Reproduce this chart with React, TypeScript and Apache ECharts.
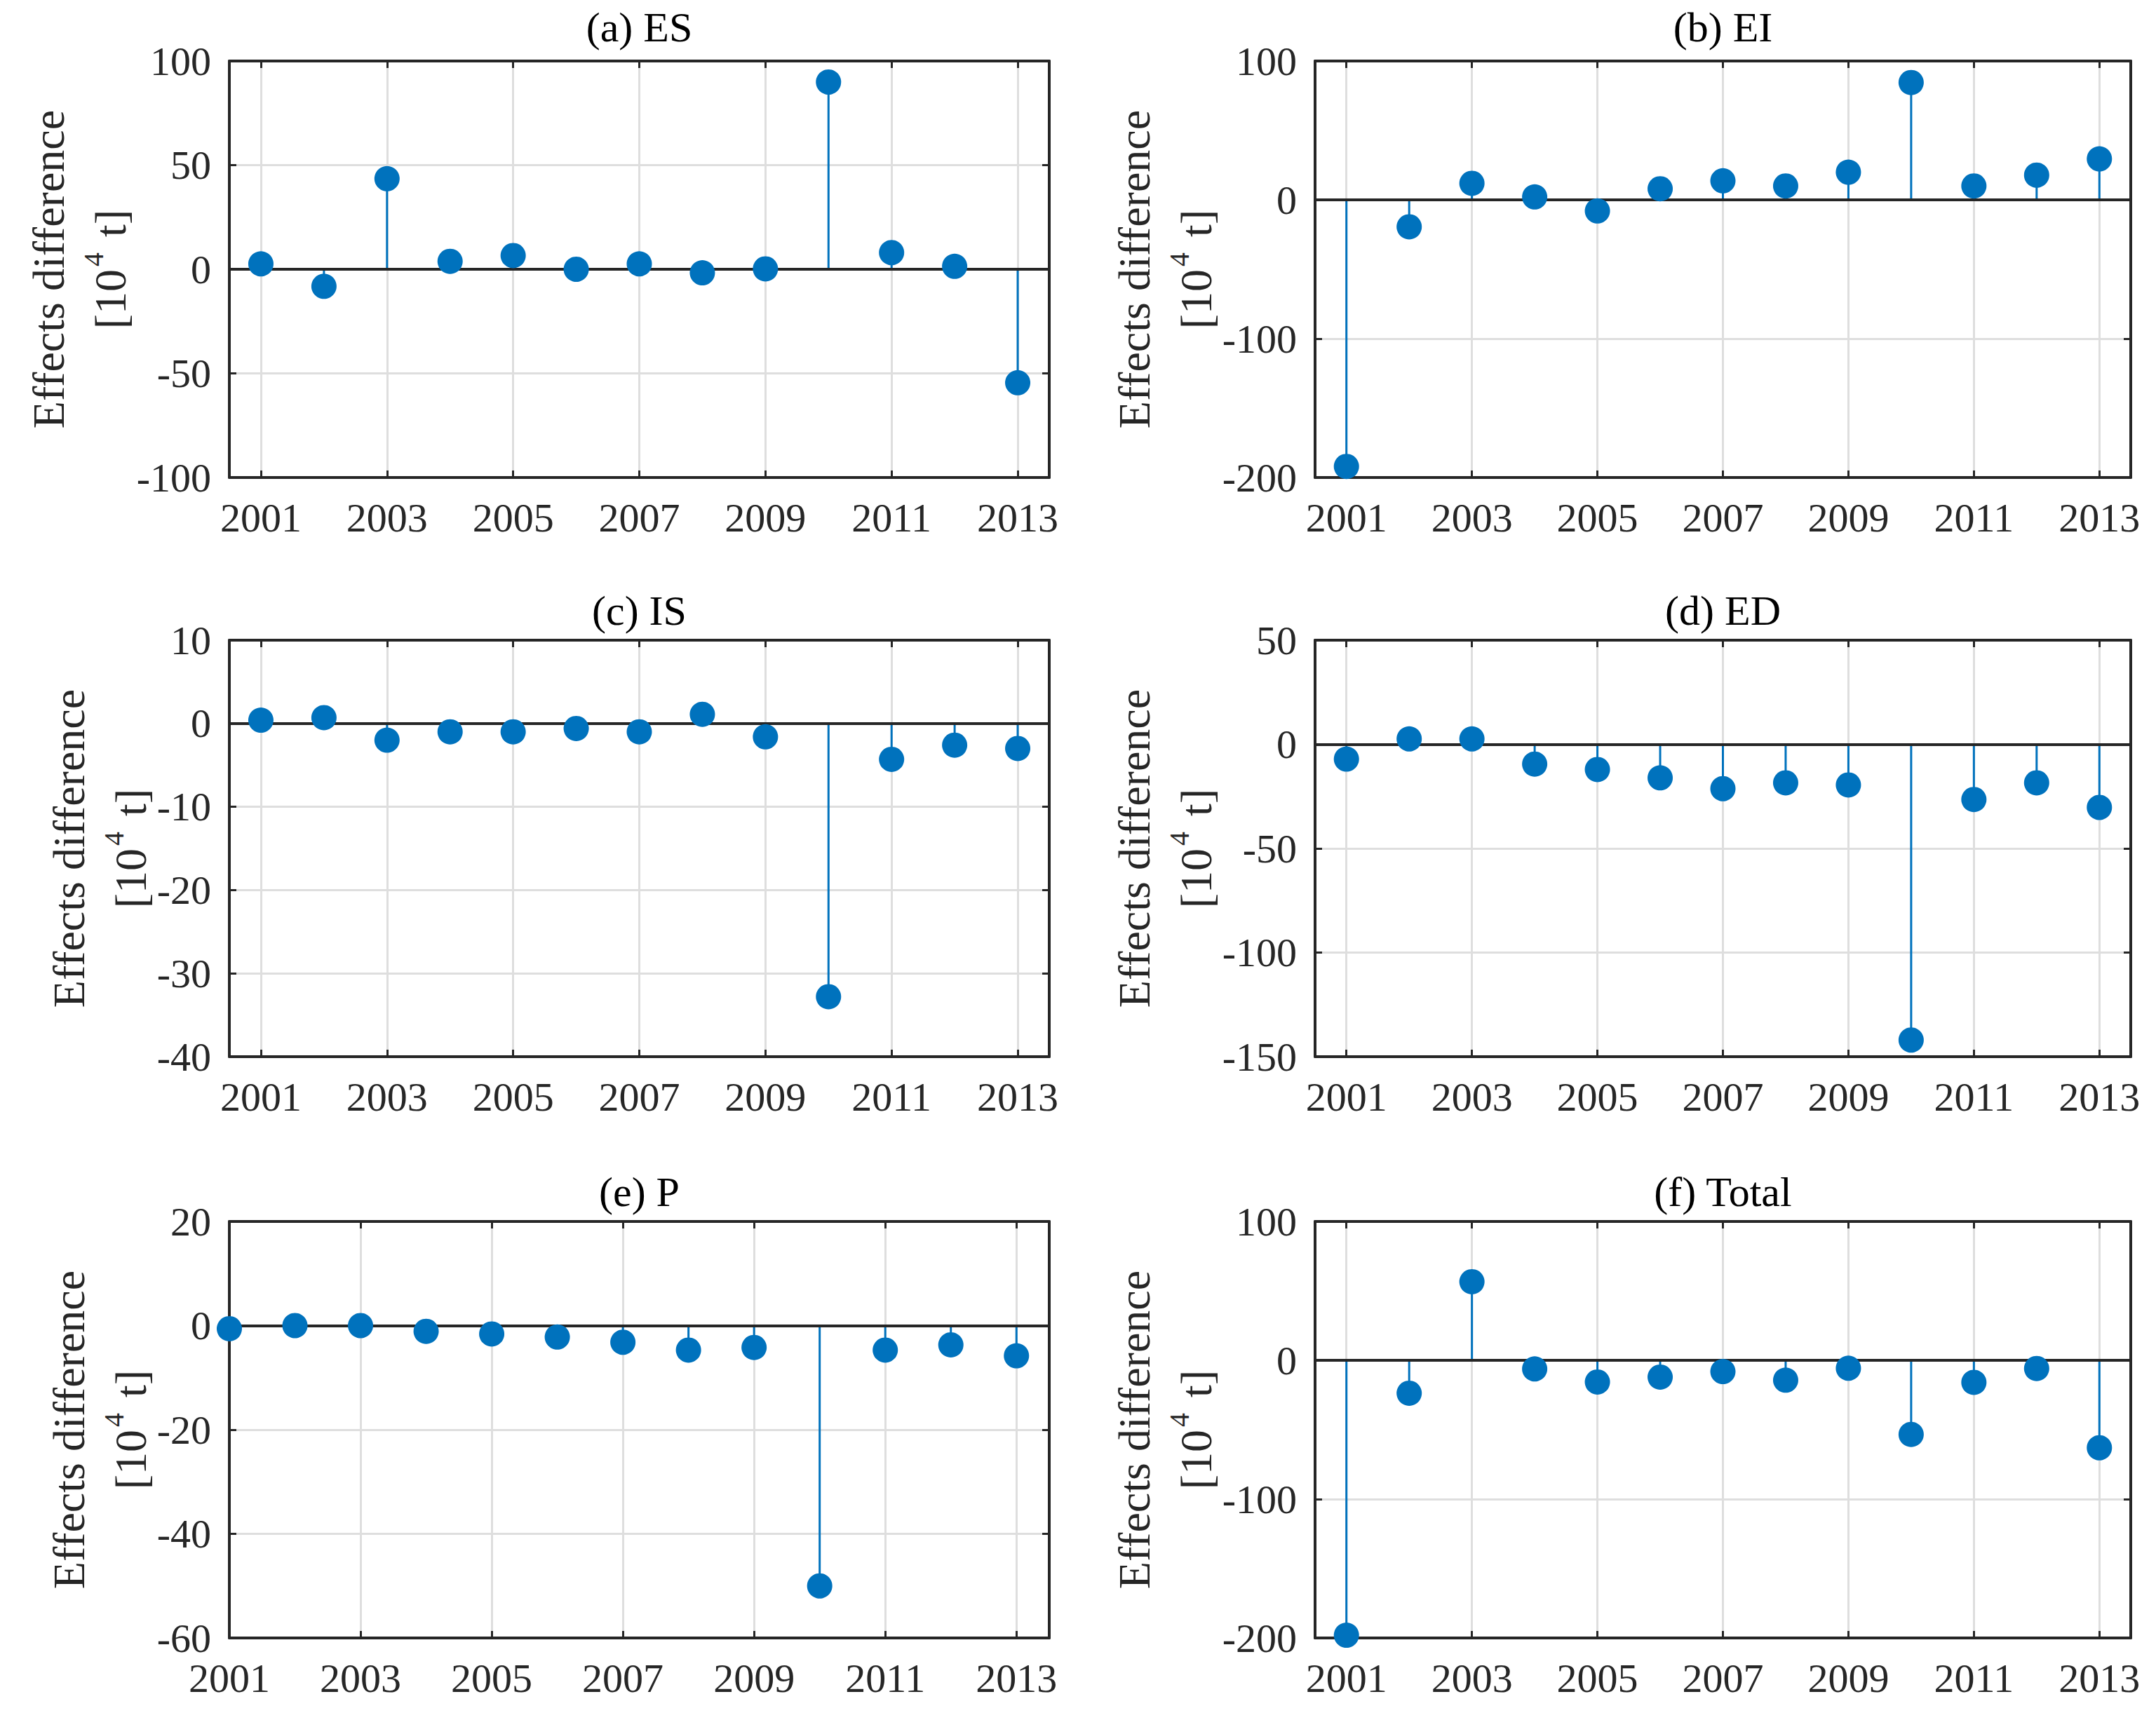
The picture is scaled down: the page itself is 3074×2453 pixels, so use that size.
import React, { useEffect, useRef } from "react";
import * as echarts from "echarts";

// ---------- data ----------
const years = [2001, 2002, 2003, 2004, 2005, 2006, 2007, 2008, 2009, 2010, 2011, 2012, 2013];
const xTickYears = [2001, 2003, 2005, 2007, 2009, 2011, 2013];

const ES = [2.6, -8.2, 43.5, 3.8, 6.6, 0.0, 2.6, -1.7, 0.2, 89.9, 8.0, 1.4, -54.5];
const EI = [-192, -19.4, 11.9, 2.1, -8.0, 8.0, 13.7, 10.0, 19.9, 84.5, 10.0, 17.8, 29.5];
const IS = [0.4, 0.7, -2.0, -1.0, -1.0, -0.6, -1.0, 1.1, -1.6, -32.8, -4.3, -2.6, -3.0];
const ED = [-7.1, 2.6, 2.6, -9.5, -12.1, -16.1, -21.3, -18.5, -19.5, -142, -26.5, -18.5, -30.3];
const P = [-0.6, 0.0, 0.0, -1.1, -1.6, -2.2, -3.2, -4.7, -4.2, -50, -4.7, -3.7, -5.8];
const TOTAL = [-198, -23.7, 56.6, -6.2, -15.6, -12.1, -8.1, -14.3, -5.7, -53.4, -15.9, -5.9, -63];

const titles = ["(a) ES", "(b) EI", "(c) IS", "(d) ED", "(e) P", "(f) Total"];
const seriesValues = [ES, EI, IS, ED, P, TOTAL];
const yMins = [-100, -200, -40, -150, -60, -200];
const yMaxs = [100, 100, 10, 50, 20, 100];
const yIntervals = [50, 100, 10, 50, 20, 100];
const xMins = [2000.5, 2000.5, 2000.5, 2000.5, 2001, 2000.5];
const xMax = 2013.5;

const yLabelLine1 = "Effects difference";

// ---------- layout / style ----------
const W = 3074;
const H = 2453;
const FONT = "Liberation Serif, serif";
const BLUE = "#0072BD";
const AX = "#262626";
const GRID = "#dedede";

const colLeft = [327, 1875];
const colWidth = [1169, 1163];
const rowTop = [87, 913, 1742];
const titleGap = [48, 42, 42];
const plotH = 594;
const labelOffset = [214, 214, 185, 214, 185, 214];

function buildOption() {
  const grid: any[] = [];
  const xAxis: any[] = [];
  const yAxis: any[] = [];
  const series: any[] = [];
  const graphic: any[] = [];

  titles.forEach((title, i) => {
    const col = i % 2;
    const row = Math.floor(i / 2);
    const left = colLeft[col];
    const width = colWidth[col];
    const top = rowTop[row];
    grid.push({ left, top, width, height: plotH, containLabel: false });

    const lineStyle = { color: AX, width: 4 };
    const tickStyle = { color: AX, width: 3 };

    // bottom x
    xAxis.push({
      gridIndex: i,
      type: "value",
      position: "bottom",
      min: xMins[i],
      max: xMax,
      axisLine: { show: true, onZero: false, lineStyle },
      axisTick: { show: true, inside: true, length: 10, lineStyle: tickStyle, customValues: xTickYears },
      axisLabel: {
        show: true,
        customValues: xTickYears,
        margin: 28,
        fontSize: 58,
        fontFamily: FONT,
        color: AX,
        formatter: (v: number) => String(v),
      },
      splitLine: { show: true, lineStyle: { color: GRID, width: 3 } },
    });
    // top x (ticks only)
    xAxis.push({
      gridIndex: i,
      type: "value",
      position: "top",
      min: xMins[i],
      max: xMax,
      axisLine: { show: true, onZero: false, lineStyle },
      axisTick: { show: true, inside: true, length: 10, lineStyle: tickStyle, customValues: xTickYears },
      axisLabel: { show: false, customValues: xTickYears },
      splitLine: { show: false },
    });
    // left y
    yAxis.push({
      gridIndex: i,
      type: "value",
      position: "left",
      min: yMins[i],
      max: yMaxs[i],
      interval: yIntervals[i],
      axisLine: { show: true, onZero: false, lineStyle },
      axisTick: { show: true, inside: true, length: 10, lineStyle: tickStyle },
      axisLabel: { show: true, margin: 26, fontSize: 58, fontFamily: FONT, color: AX },
      splitLine: { show: true, lineStyle: { color: GRID, width: 3 } },
    });
    // right y (ticks only)
    yAxis.push({
      gridIndex: i,
      type: "value",
      position: "right",
      min: yMins[i],
      max: yMaxs[i],
      interval: yIntervals[i],
      axisLine: { show: true, onZero: false, lineStyle },
      axisTick: { show: true, inside: true, length: 10, lineStyle: tickStyle },
      axisLabel: { show: false },
      splitLine: { show: false },
    });

    const data = years.map((yr, k) => [yr, seriesValues[i][k]]);

    // stems
    series.push({
      type: "custom",
      xAxisIndex: 2 * i,
      yAxisIndex: 2 * i,
      z: 3,
      silent: true,
      encode: { x: 0, y: 1 },
      data,
      renderItem: (params: any, api: any) => {
        const x = api.value(0);
        const y = api.value(1);
        const p0 = api.coord([x, 0]);
        const p1 = api.coord([x, y]);
        return {
          type: "line",
          shape: { x1: p0[0], y1: p0[1], x2: p1[0], y2: p1[1] },
          style: { stroke: BLUE, lineWidth: 3 },
        };
      },
    });

    // markers + baseline
    series.push({
      type: "scatter",
      xAxisIndex: 2 * i,
      yAxisIndex: 2 * i,
      z: 10,
      symbol: "circle",
      symbolSize: 36,
      itemStyle: { color: BLUE, opacity: 1 },
      data,
      markLine: {
        silent: true,
        z: 5,
        symbol: ["none", "none"],
        label: { show: false },
        lineStyle: { color: AX, width: 4, type: "solid" },
        data: [{ yAxis: 0 }],
      },
    });

    // title
    graphic.push({
      type: "text",
      x: left + width / 2,
      y: top - titleGap[row],
      silent: true,
      style: {
        text: title,
        fontSize: 60,
        fontFamily: FONT,
        fill: "#000000",
        align: "center",
        verticalAlign: "middle",
      },
    });

    // y label
    graphic.push({
      type: "text",
      x: left - labelOffset[i],
      y: top + plotH / 2,
      rotation: Math.PI / 2,
      silent: true,
      style: {
        text: "{a|" + yLabelLine1 + "}\n{b|[10}{s|4}{b| t]}",
        align: "center",
        verticalAlign: "middle",
        fontSize: 64,
        fontFamily: FONT,
        fill: AX,
        rich: {
          a: { fontSize: 64, fontFamily: FONT, fill: AX, lineHeight: 88 },
          b: { fontSize: 64, fontFamily: FONT, fill: AX, lineHeight: 88 },
          s: { fontSize: 40, fontFamily: FONT, fill: AX, verticalAlign: "top", padding: [0, 6, 0, 4] },
        },
      },
    });
  });

  return {
    animation: false,
    backgroundColor: "#ffffff",
    textStyle: { fontFamily: FONT },
    grid,
    xAxis,
    yAxis,
    series,
    graphic,
  };
}

export default function App() {
  const ref = useRef<HTMLDivElement | null>(null);
  useEffect(() => {
    document.body.style.margin = "0";
    if (!ref.current) return;
    const chart = echarts.init(ref.current, null, { renderer: "svg" });
    chart.setOption(buildOption() as any);
    return () => {
      chart.dispose();
    };
  }, []);
  return <div ref={ref} style={{ width: W, height: H, background: "#fff" }} />;
}
